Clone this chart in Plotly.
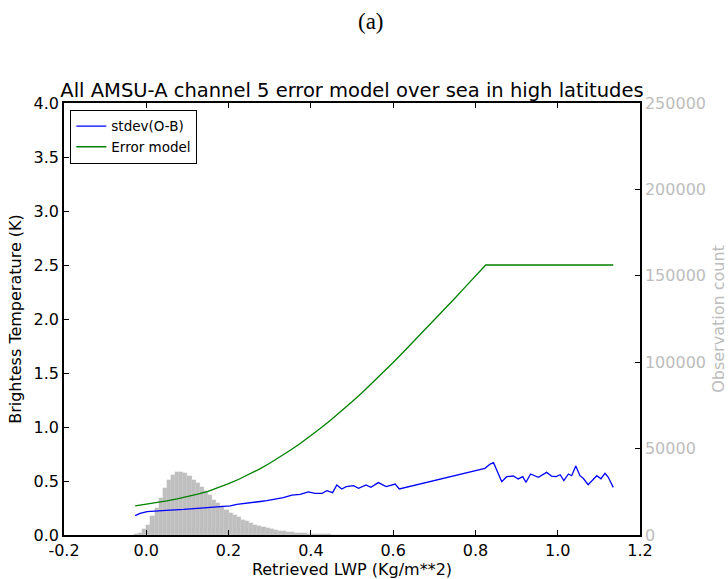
import plotly.graph_objects as go

# ---- data ----
hist_centers = [-0.025, -0.015, -0.005, 0.005, 0.015, 0.025, 0.035, 0.045, 0.055, 0.065,
                0.075, 0.085, 0.095, 0.105, 0.115, 0.125, 0.135, 0.145, 0.155, 0.165,
                0.175, 0.185, 0.195, 0.205, 0.215, 0.225, 0.235, 0.245, 0.255, 0.265,
                0.275, 0.285, 0.295, 0.305, 0.315, 0.325, 0.335, 0.345, 0.355, 0.365,
                0.375, 0.385, 0.395, 0.405, 0.415, 0.425, 0.435, 0.445, 0.455, 0.465,
                0.475, 0.485, 0.495, 0.505, 0.515]
hist_counts = [400, 1300, 3500, 6000, 10800, 15600, 21400, 27200, 32000, 34900,
               36500, 36600, 35900, 34300, 32000, 30000, 27600, 25300, 23000, 20400,
               18500, 16600, 14700, 12700, 11400, 10200, 8900, 7900, 6800, 6000,
               5200, 4500, 3900, 3400, 2900, 2500, 2100, 1800, 1500, 1300,
               1100, 900, 780, 650, 540, 450, 370, 300, 250, 200,
               160, 130, 100, 80, 60]

stdev_x = [-0.027, -0.015, 0.002, 0.026, 0.058, 0.091, 0.123, 0.155, 0.188, 0.204,
           0.22, 0.245, 0.277, 0.293, 0.333, 0.354, 0.374, 0.394, 0.41, 0.427,
           0.439, 0.453, 0.463, 0.475, 0.486, 0.504, 0.516, 0.534, 0.546, 0.564,
           0.583, 0.605, 0.615, 0.823, 0.836, 0.844, 0.864, 0.876, 0.892, 0.904,
           0.915, 0.923, 0.934, 0.953, 0.973, 0.985, 0.996, 1.006, 1.015, 1.026,
           1.034, 1.044, 1.054, 1.062, 1.074, 1.085, 1.095, 1.105, 1.115, 1.123, 1.135]
stdev_y = [0.179, 0.20, 0.216, 0.225, 0.231, 0.237, 0.247, 0.256, 0.265, 0.27,
           0.284, 0.293, 0.31, 0.318, 0.346, 0.37, 0.377, 0.40, 0.386, 0.386,
           0.41, 0.392, 0.463, 0.426, 0.448, 0.457, 0.432, 0.463, 0.441, 0.485,
           0.448, 0.472, 0.426, 0.617, 0.657, 0.67, 0.494, 0.54, 0.546, 0.519,
           0.54, 0.488, 0.565, 0.534, 0.58, 0.546, 0.54, 0.558, 0.503, 0.565,
           0.549, 0.639, 0.549, 0.525, 0.466, 0.509, 0.549, 0.521, 0.571, 0.534, 0.441]

model_x = [-0.027, 0.0, 0.025, 0.05, 0.075, 0.1, 0.125, 0.15, 0.175, 0.2, 0.225, 0.25,
           0.275, 0.3, 0.325, 0.35, 0.375, 0.4, 0.425, 0.45, 0.475, 0.5, 0.525, 0.55,
           0.575, 0.6, 0.625, 0.65, 0.675, 0.7, 0.725, 0.75, 0.775, 0.8, 0.825, 1.135]
model_y = [0.27, 0.285, 0.298, 0.315, 0.334, 0.355, 0.378, 0.405, 0.438, 0.475, 0.516, 0.56,
           0.61, 0.664, 0.722, 0.784, 0.85, 0.92, 0.994, 1.07, 1.15, 1.233, 1.32, 1.41,
           1.503, 1.598, 1.695, 1.793, 1.891, 1.989, 2.09, 2.192, 2.295, 2.397, 2.5, 2.5]

x_ticks = [-0.2, 0.0, 0.2, 0.4, 0.6, 0.8, 1.0, 1.2]
y_ticks = [0.0, 0.5, 1.0, 1.5, 2.0, 2.5, 3.0, 3.5, 4.0]
count_ticks = [0, 50000, 100000, 150000, 200000, 250000]

FONT = "DejaVu Sans"
GREY = "#bdbdbd"

fig = go.Figure()
fig.add_trace(go.Bar(x=hist_centers, y=hist_counts, width=0.01, yaxis="y",
                     marker=dict(color="#bfbfbf", line=dict(width=0.3, color="#c8c8c8")),
                     showlegend=False, hoverinfo="skip"))
fig.add_trace(go.Scatter(x=stdev_x, y=stdev_y, mode="lines", yaxis="y2",
                         name="stdev(O-B)", line=dict(color="#0000ff", width=1.3)))
fig.add_trace(go.Scatter(x=model_x, y=model_y, mode="lines", yaxis="y2",
                         name="Error model", line=dict(color="#008000", width=1.3)))

fig.update_layout(
    width=728, height=579,
    margin=dict(l=64, r=88, t=103, b=44),
    paper_bgcolor="white", plot_bgcolor="white",
    font=dict(family=FONT, size=16, color="black"),
    bargap=0,
    title=dict(text="All AMSU-A channel 5 error model over sea in high latitudes",
               x=0.4835, xanchor="center", y=0.845, yanchor="middle",
               font=dict(family=FONT, size=19.5, color="black")),
    xaxis=dict(range=[-0.2, 1.2], tickvals=x_ticks, ticktext=[f"{v:.1f}" for v in x_ticks],
               ticks="inside", ticklen=5, tickcolor="black", showline=True, linecolor="black",
               linewidth=1.5, mirror="ticks", showgrid=False, zeroline=False, automargin=False,
               title=dict(text="Retrieved LWP (Kg/m**2)", standoff=2, font=dict(size=16))),
    yaxis=dict(range=[0, 250000], tickvals=count_ticks, ticktext=[str(v) for v in count_ticks],
               side="right", ticks="inside", ticklen=5, tickcolor="black", automargin=False,
               tickfont=dict(color=GREY, size=16), showline=True, linecolor="black",
               linewidth=1.5, showgrid=False, zeroline=False,
               title=dict(text="Observation count", font=dict(color=GREY, size=16), standoff=10)),
    yaxis2=dict(range=[0, 4], tickvals=y_ticks, ticktext=[f"{v:.1f}" for v in y_ticks],
                side="left", overlaying="y", ticks="inside", ticklen=5, tickcolor="black",
                automargin=False,
                showline=True, linecolor="black", linewidth=1.5, showgrid=False, zeroline=False,
                title=dict(text="Brightess Temperature (K)", font=dict(size=16), standoff=8)),
    legend=dict(x=0.011, y=0.984, xanchor="left", yanchor="top", bgcolor="white",
                bordercolor="black", borderwidth=1, font=dict(family=FONT, size=13.5),
                tracegroupgap=0, itemwidth=30),
    annotations=[dict(text="(a)", xref="paper", yref="paper", x=0.533, y=1, yshift=82,
                      xanchor="center", yanchor="middle", showarrow=False,
                      font=dict(family="Liberation Serif", size=23, color="black"))],
)

fig.write_html("out.html")
